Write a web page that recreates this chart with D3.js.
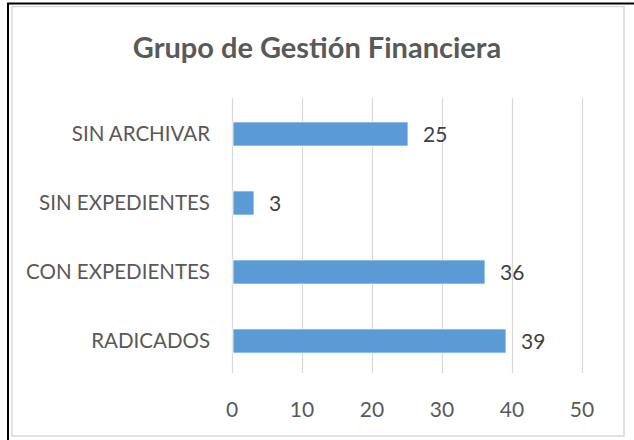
<!DOCTYPE html>
<html>
<head>
<meta charset="utf-8">
<script src="https://cdn.jsdelivr.net/npm/d3@7"></script>
<style>
  body { margin: 0; background: #fff; }
  svg { display: block; font-family: Lato, "Open Sans", sans-serif; }
</style>
</head>
<body>
<div id="chart"></div>
<script>
// chart data
var categories = ["SIN ARCHIVAR", "SIN EXPEDIENTES", "CON EXPEDIENTES", "RADICADOS"];
var values = [25, 3, 36, 39];
var xTicks = [0, 10, 20, 30, 40, 50];
var title = "Grupo de Gestión Financiera";

var W = 634, H = 440;
var svg = d3.select("#chart").append("svg")
    .attr("width", W)
    .attr("height", H);

// outer black frame (top and left only, like the cropped picture)
svg.append("line").attr("x1", 7).attr("x2", W).attr("y1", 3.5).attr("y2", 3.5)
    .attr("stroke", "#000").attr("stroke-width", 2);
svg.append("line").attr("x1", 8).attr("x2", 8).attr("y1", 3).attr("y2", H)
    .attr("stroke", "#000").attr("stroke-width", 2);

// chart area border
svg.append("rect")
    .attr("x", 12).attr("y", 6.5)
    .attr("width", 612).attr("height", 429.5)
    .attr("fill", "#fff")
    .attr("stroke", "#d9d9d9")
    .attr("stroke-width", 1.5);

// title
svg.append("text")
    .attr("x", 317).attr("y", 58)
    .attr("text-anchor", "middle")
    .attr("fill", "#595959")
    .attr("font-weight", "bold")
    .attr("font-size", 29)
    .text(title);

var x = d3.scaleLinear().domain([0, 50]).range([232, 582]);
var y = d3.scaleBand().domain(categories).range([99.5, 375.5]).paddingInner(0.65).paddingOuter(0.325);

// vertical gridlines
svg.selectAll("line.grid")
    .data(xTicks)
    .enter().append("line")
    .attr("class", "grid")
    .attr("x1", function(d) { return x(d) + 0.5; })
    .attr("x2", function(d) { return x(d) + 0.5; })
    .attr("y1", 98)
    .attr("y2", 373)
    .attr("stroke", "#d9d9d9")
    .attr("stroke-width", 1.2);

// bars
svg.selectAll("rect.bar")
    .data(values)
    .enter().append("rect")
    .attr("class", "bar")
    .attr("x", x(0) + 1)
    .attr("y", function(d, i) { return y(categories[i]); })
    .attr("width", function(d) { return x(d) - x(0); })
    .attr("height", y.bandwidth())
    .attr("fill", "#5b9bd5")
    .attr("stroke", "#fff")
    .attr("stroke-width", 0.8);

// value labels
svg.selectAll("text.val")
    .data(values)
    .enter().append("text")
    .attr("class", "val")
    .attr("x", function(d) { return x(d) + 16; })
    .attr("y", function(d, i) { return y(categories[i]) + y.bandwidth() / 2; })
    .attr("dy", "0.36em")
    .attr("fill", "#404040")
    .attr("font-size", 21)
    .text(function(d) { return d; });

// category labels
svg.selectAll("text.cat")
    .data(categories)
    .enter().append("text")
    .attr("class", "cat")
    .attr("x", 210)
    .attr("y", function(d) { return y(d) + y.bandwidth() / 2; })
    .attr("dy", "0.36em")
    .attr("text-anchor", "end")
    .attr("fill", "#595959")
    .attr("font-size", 20.5)
    .text(function(d) { return d; });

// x tick labels
svg.selectAll("text.tick")
    .data(xTicks)
    .enter().append("text")
    .attr("class", "tick")
    .attr("x", function(d) { return x(d); })
    .attr("y", 409)
    .attr("dy", "0.36em")
    .attr("text-anchor", "middle")
    .attr("fill", "#595959")
    .attr("font-size", 21)
    .text(function(d) { return d; });
</script>
</body>
</html>
